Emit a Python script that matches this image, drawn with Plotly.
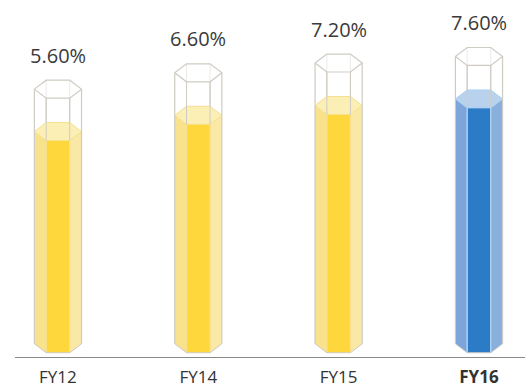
import plotly.graph_objects as go

# ---- data ----
CATEGORIES = ["FY12", "FY14", "FY15", "FY16"]
VALUES = [5.6, 6.6, 7.2, 7.6]
HIGHLIGHT = ["FY16"]

# ---- style / scale constants ----
BASE = -7.4        # axis value where the tubes stand
HEADROOM = 2.6     # empty glass above the liquid (axis units)
HALF_W = 0.168     # half width of a tube (x units)
HH = 0.55          # half depth of the hexagon in perspective (y units)
Y_RANGE = [-8.21, 13.66]
X_RANGE = [-0.306, 3.328]
FONT = "Open Sans"

YELLOW = dict(side_l="#F8E28C", side_r="#FAE8A6", front="#FDD73C",
              top="#FBEFB6", seam="#F6E08E")
BLUE = dict(side_l="#7CA5D9", side_r="#89AFDD", front="#2B7BC7",
            top="#B8D2EE", seam="#AAD0F4")
GLASS = "#CFCBC3"

fig = go.Figure()


def poly(xs, ys, fill, line=None, lw=0):
    fig.add_trace(go.Scatter(
        x=xs + [xs[0]], y=ys + [ys[0]], mode="lines", fill="toself",
        fillcolor=fill, line=dict(color=line or fill, width=lw),
        hoverinfo="skip", showlegend=False))


def path(xs, ys, color, w=1.0):
    fig.add_trace(go.Scatter(
        x=xs, y=ys, mode="lines", line=dict(color=color, width=w),
        hoverinfo="skip", showlegend=False, connectgaps=False))


def hexagon(c, y):
    xl, xfl, xfr, xr = c - HALF_W, c - HALF_W / 2, c + HALF_W / 2, c + HALF_W
    return ([xl, xfl, xfr, xr, xfr, xfl], [y, y + HH, y + HH, y, y - HH, y - HH])


for i, (cat, v) in enumerate(zip(CATEGORIES, VALUES)):
    pal = BLUE if cat in HIGHLIGHT else YELLOW
    c = i
    xl, xfl, xfr, xr = c - HALF_W, c - HALF_W / 2, c + HALF_W / 2, c + HALF_W
    B, V, T = BASE, v, v + HEADROOM

    # glass: back vertical edges seen through empty part
    path([xfl, xfl, None, xfr, xfr], [V + HH, T + HH, None, V + HH, T + HH], GLASS, 1)

    # liquid faces
    poly([xl, xfl, xfl, xl], [B, B - HH, V - HH, V], pal["side_l"])
    poly([xfl, xfr, xfr, xfl], [B - HH, B - HH, V - HH, V - HH], pal["front"])
    poly([xfr, xr, xr, xfr], [B - HH, B, V, V - HH], pal["side_r"])
    path([xfl, xfl, None, xfr, xfr], [B - HH, V - HH, None, B - HH, V - HH], pal["seam"], 1.5)
    hx, hy = hexagon(c, V)
    poly(hx, hy, pal["top"], pal["seam"], 1)

    # glass outline
    path([xl, xl, None, xr, xr], [B, T, None, B, T], GLASS, 1.2)
    path([xfl, xfl, None, xfr, xfr], [V - HH, T - HH, None, V - HH, T - HH], GLASS, 1)
    path([xl, xfl, xfr, xr], [B, B - HH, B - HH, B], GLASS, 1)
    tx, ty = hexagon(c, T)
    poly(tx, ty, "rgba(255,255,255,0.6)", GLASS, 1.2)

    fig.add_annotation(x=c, y=T, text=f"{v:.2f}%", showarrow=False,
                       yanchor="middle", yshift=34,
                       font=dict(family=FONT, size=20, color="#3A3A3A"))

ticktext = [f"<b>{c}</b>" if c in HIGHLIGHT else c for c in CATEGORIES]

fig.update_layout(
    width=525, height=387,
    margin=dict(l=15, r=0, t=0, b=30),
    paper_bgcolor="white", plot_bgcolor="white",
    showlegend=False,
    xaxis=dict(range=X_RANGE, tickvals=list(range(len(CATEGORIES))), ticktext=ticktext,
               showgrid=False, zeroline=False, showline=True, linecolor="#8A8A8A",
               linewidth=1.2, ticks="", ticklabelstandoff=4,
               tickfont=dict(family=FONT, size=17, color="#333333"),
               automargin=False, fixedrange=True),
    yaxis=dict(range=Y_RANGE, visible=False, automargin=False, fixedrange=True),
)

fig.write_html("out.html")
